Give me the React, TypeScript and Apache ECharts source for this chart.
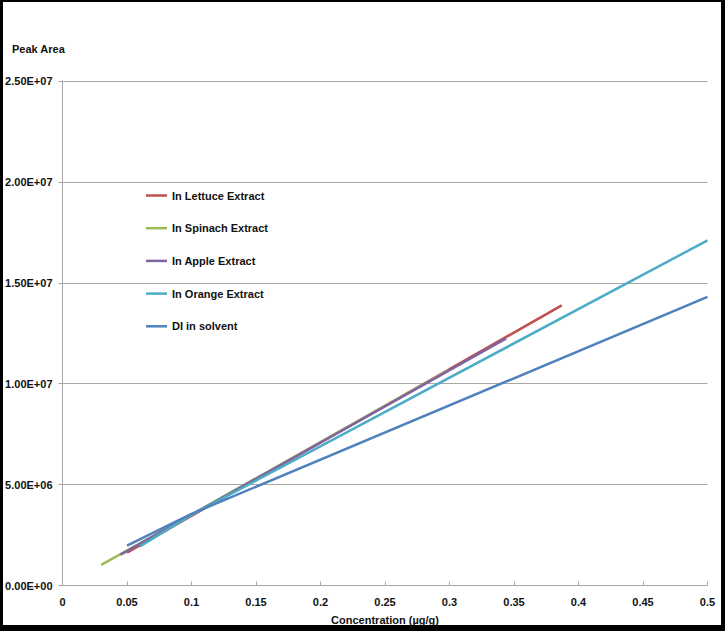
import React, { useEffect, useRef } from "react";
import * as echarts from "echarts";

// Calibration lines: [concentration (µg/g), peak area]
const seriesNames = [
  "In Lettuce Extract",
  "In Spinach Extract",
  "In Apple Extract",
  "In Orange Extract",
  "DI in solvent",
];
const lettuce = [[0.05, 1.63e6], [0.1, 3.45e6], [0.387, 1.388e7]];
const spinach = [[0.03, 1.02e6], [0.1, 3.52e6], [0.3, 1.07e7]];
const apple = [[0.045, 1.53e6], [0.1, 3.5e6], [0.344, 1.225e7]];
const orange = [[0.06, 1.94e6], [0.1, 3.5e6], [0.5, 1.71e7]];
const diSolvent = [[0.05, 1.98e6], [0.1, 3.55e6], [0.5, 1.43e7]];
const seriesData = [lettuce, spinach, apple, orange, diSolvent];
const seriesColors = ["#C0504D", "#9BBB59", "#8064A2", "#4BACC6", "#4F81BD"];

const yTickValues = [0, 5e6, 1e7, 1.5e7, 2e7, 2.5e7];
const yTickLabels = ["0.00E+00", "5.00E+06", "1.00E+07", "1.50E+07", "2.00E+07", "2.50E+07"];

const FONT = "'Liberation Sans', Arial, sans-serif";

export default function App() {
  const ref = useRef<HTMLDivElement>(null);
  useEffect(() => {
    if (!ref.current) return;
    const chart = echarts.init(ref.current, undefined, { renderer: "svg" });
    const grid = "#a8a8a8";
    chart.setOption({
      animation: false,
      backgroundColor: "#ffffff",
      grid: {
        left: 59.5,
        right: 13.5,
        top: 79,
        bottom: 39.5,
        containLabel: false,
        outerBoundsMode: "none",
      },
      legend: {
        orient: "vertical",
        left: 138,
        top: 183,
        padding: 5,
        itemWidth: 21,
        itemHeight: 14,
        itemGap: 21.7,
        icon: "path://M0,0 L21,0 L21,2.5 L0,2.5 Z",
        data: seriesNames,
        textStyle: { fontFamily: FONT, fontWeight: "bold", fontSize: 11, color: "#111" },
      },
      xAxis: {
        type: "value",
        min: 0,
        max: 0.5,
        interval: 0.05,
        name: "Concentration (µg/g)",
        nameLocation: "middle",
        nameGap: 29,
        nameTextStyle: { fontFamily: FONT, fontWeight: "bold", fontSize: 11, color: "#111" },
        axisLine: { show: true, lineStyle: { color: grid, width: 1 } },
        axisTick: { show: true, inside: true, length: 4, lineStyle: { color: grid } },
        splitLine: { show: false },
        axisLabel: {
          margin: 11,
          fontFamily: FONT,
          fontWeight: "bold",
          fontSize: 11,
          color: "#111",
        },
      },
      yAxis: {
        type: "value",
        min: 0,
        max: 2.5e7,
        interval: 5e6,
        axisLine: { show: true, lineStyle: { color: grid, width: 1 } },
        axisTick: { show: true, inside: false, length: 4, lineStyle: { color: grid } },
        splitLine: { show: true, lineStyle: { color: grid, width: 1 } },
        axisLabel: {
          margin: 10,
          fontFamily: FONT,
          fontWeight: "bold",
          fontSize: 11,
          color: "#111",
          formatter: (v: number) => {
            const i = yTickValues.findIndex((t) => Math.abs(t - v) < 1);
            return i >= 0 ? yTickLabels[i] : "";
          },
        },
      },
      graphic: [
        {
          type: "text",
          left: 9,
          top: 41,
          style: {
            text: "Peak Area",
            fontFamily: FONT,
            fontWeight: "bold",
            fontSize: 11,
            fill: "#111",
          },
        },
      ],
      series: seriesNames.map((name, i) => ({
        name,
        type: "line",
        data: seriesData[i],
        symbol: "none",
        showSymbol: false,
        lineStyle: { color: seriesColors[i], width: 2.5 },
        itemStyle: { color: seriesColors[i] },
      })),
    });
    return () => chart.dispose();
  }, []);

  return (
    <div
      style={{
        position: "fixed",
        left: 0,
        top: 0,
        width: 725,
        height: 631,
        boxSizing: "border-box",
        borderStyle: "solid",
        borderColor: "#000",
        borderWidth: "2px 4px 6px 3px",
        background: "#fff",
      }}
    >
      <div ref={ref} style={{ width: 718, height: 623 }} />
    </div>
  );
}
